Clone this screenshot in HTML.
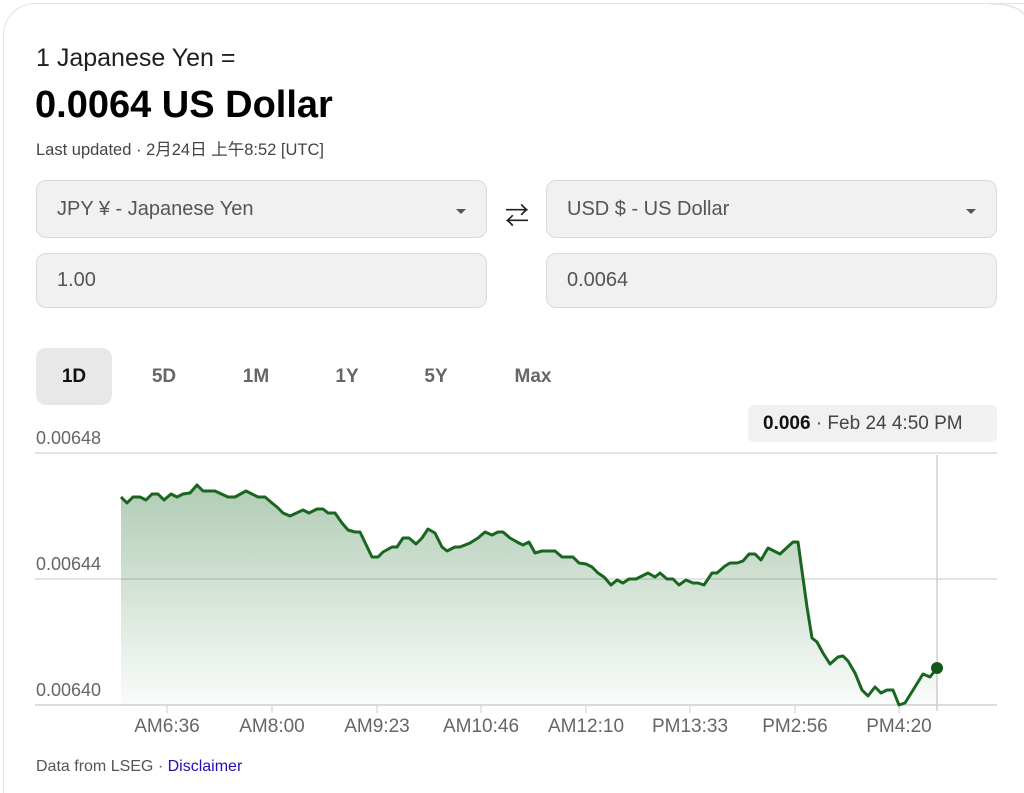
<!DOCTYPE html>
<html><head><meta charset="utf-8"><style>
*{margin:0;padding:0;box-sizing:border-box}
html,body{width:1024px;height:793px;overflow:hidden}
body{background:#fff;position:relative;font-family:"Liberation Sans","Noto Sans CJK JP",sans-serif;}
.card{position:absolute;left:3px;top:3px;width:1021px;height:790px;border:1.5px solid #e3e3e3;border-right:none;border-bottom:none;border-radius:32px 0 0 0;}
.a{position:absolute;white-space:nowrap}
.box{position:absolute;background:#f1f1f1;border:1px solid #dadada;border-radius:10px;font-size:20px;color:#555;padding-left:20px;display:flex;align-items:center}
.tri{position:absolute;right:20px;top:28px;width:0;height:0;border-left:5px solid transparent;border-right:5px solid transparent;border-top:5px solid #555}
.tab{position:absolute;top:348px;height:57px;font-size:19px;font-weight:bold;color:#666;display:flex;align-items:center;justify-content:center}
.yl{position:absolute;left:36px;font-size:18px;color:#666}
.xl{position:absolute;top:716px;font-size:19px;color:#666;transform:translateX(-50%)}
</style></head><body>
<div class="card"></div>
<svg class="a" style="left:990px;top:0" width="34" height="40"><path d="M0,3.75 Q25,3.75 34,14" fill="none" stroke="#e3e3e3" stroke-width="1.5"/></svg>
<div class="a" style="left:36px;top:44px;font-size:25px;color:#1f1f1f">1 Japanese Yen =</div>
<div class="a" style="left:35px;top:84px;font-size:38px;font-weight:bold;color:#000">0.0064 US Dollar</div>
<div class="a" style="left:36px;top:136px;font-size:16.5px;color:#444">Last updated · 2月24日 上午8:52 [UTC]</div>
<div class="box" style="left:36px;top:180px;width:451px;height:58px">JPY ¥ - Japanese Yen<div class="tri"></div></div>
<div class="a" style="left:505px;top:196px;font-size:24px;color:#222">⇄</div>
<div class="box" style="left:546px;top:180px;width:451px;height:58px">USD $ - US Dollar<div class="tri"></div></div>
<div class="box" style="left:36px;top:253px;width:451px;height:55px">1.00</div>
<div class="box" style="left:546px;top:253px;width:451px;height:55px">0.0064</div>
<div class="tab" style="left:36px;width:76px;background:#e8e8e8;border-radius:10px;color:#111">1D</div>
<div class="tab" style="left:134px;width:60px">5D</div>
<div class="tab" style="left:226px;width:60px">1M</div>
<div class="tab" style="left:317px;width:60px">1Y</div>
<div class="tab" style="left:406px;width:60px">5Y</div>
<div class="tab" style="left:503px;width:60px">Max</div>
<div class="a" style="left:748px;top:405px;width:249px;height:37px;background:#f1f1f1;border-radius:6px;font-size:19px;color:#444;display:flex;align-items:center;padding-left:15px"><b style="color:#111">0.006</b>&nbsp;· Feb 24 4:50 PM</div>
<div class="yl" style="top:428px">0.00648</div>
<div class="yl" style="top:554px">0.00644</div>
<div class="yl" style="top:680px">0.00640</div>
<svg class="a" style="left:0;top:0" width="1024" height="793">
<defs><linearGradient id="g" x1="0" y1="0" x2="0" y2="1"><stop offset="0" stop-color="#1f6e2b" stop-opacity="0.35"/><stop offset="1" stop-color="#1f6e2b" stop-opacity="0.02"/></linearGradient></defs>
<line x1="35" y1="453" x2="997" y2="453" stroke="#e3e3e3" stroke-width="2"/>
<line x1="35" y1="579" x2="997" y2="579" stroke="#e3e3e3" stroke-width="2"/>
<line x1="35" y1="705" x2="997" y2="705" stroke="#dcdcdc" stroke-width="2"/>
<g stroke="#dcdcdc" stroke-width="1.5"><line x1="167" y1="705" x2="167" y2="713"/><line x1="272" y1="705" x2="272" y2="713"/><line x1="377" y1="705" x2="377" y2="713"/><line x1="481" y1="705" x2="481" y2="713"/><line x1="586" y1="705" x2="586" y2="713"/><line x1="690" y1="705" x2="690" y2="713"/><line x1="795" y1="705" x2="795" y2="713"/><line x1="899" y1="705" x2="899" y2="713"/></g>
<line x1="937" y1="455" x2="937" y2="711" stroke="#cfcfcf" stroke-width="1.5"/>
<path id="p" d="M121,497 L127,503 133,497 140,497 146,500 152,494 158,494 164,500 171,494 177,497 183,494 190,493 197,485 203,491 215,491 228,497 235,497 246,491 258,497 265,497 272,503 277,507 283,513 290,516 303,510 309,513 317,509 323,509 328,513 335,513 342,523 348,530 355,532 360,532 372,557 378,557 383,552 392,547 397,547 403,538 409,538 416,544 422,538 428,529 435,533 442,547 447,551 455,547 460,547 470,543 478,538 485,532 492,535 498,532 503,532 510,538 517,542 523,545 529,542 535,553 542,551 552,551 555,551 562,557 573,557 579,563 586,564 592,567 598,573 604,577 611,585 617,580 623,583 629,579 636,579 648,573 655,577 660,573 667,579 673,579 679,585 686,580 693,583 698,583 704,585 712,573 717,573 725,566 730,563 737,563 743,561 749,554 755,554 761,560 768,548 780,554 793,542 798,542 807,607 812,638 817,642 823,653 830,664 838,657 843,656 848,661 855,673 862,690 868,696 875,687 881,693 887,690 893,690 899,705 905,703 923,674 930,677 937,668" fill="none"/>
<path d="M121,497 L127,503 133,497 140,497 146,500 152,494 158,494 164,500 171,494 177,497 183,494 190,493 197,485 203,491 215,491 228,497 235,497 246,491 258,497 265,497 272,503 277,507 283,513 290,516 303,510 309,513 317,509 323,509 328,513 335,513 342,523 348,530 355,532 360,532 372,557 378,557 383,552 392,547 397,547 403,538 409,538 416,544 422,538 428,529 435,533 442,547 447,551 455,547 460,547 470,543 478,538 485,532 492,535 498,532 503,532 510,538 517,542 523,545 529,542 535,553 542,551 552,551 555,551 562,557 573,557 579,563 586,564 592,567 598,573 604,577 611,585 617,580 623,583 629,579 636,579 648,573 655,577 660,573 667,579 673,579 679,585 686,580 693,583 698,583 704,585 712,573 717,573 725,566 730,563 737,563 743,561 749,554 755,554 761,560 768,548 780,554 793,542 798,542 807,607 812,638 817,642 823,653 830,664 838,657 843,656 848,661 855,673 862,690 868,696 875,687 881,693 887,690 893,690 899,705 905,703 923,674 930,677 937,668 L937,705 L121,705 Z" fill="url(#g)"/>
<use href="#p" stroke="#18661f" stroke-width="3" stroke-linejoin="round"/>
<circle cx="937" cy="668" r="6" fill="#0f5a17"/>
</svg>
<div class="xl" style="left:167px">AM6:36</div>
<div class="xl" style="left:272px">AM8:00</div>
<div class="xl" style="left:377px">AM9:23</div>
<div class="xl" style="left:481px">AM10:46</div>
<div class="xl" style="left:586px">AM12:10</div>
<div class="xl" style="left:690px">PM13:33</div>
<div class="xl" style="left:795px">PM2:56</div>
<div class="xl" style="left:899px">PM4:20</div>
<div class="a" style="left:36px;top:758px;font-size:16px;color:#555">Data from LSEG · <span style="color:#2a0fb0">Disclaimer</span></div>
</body></html>
